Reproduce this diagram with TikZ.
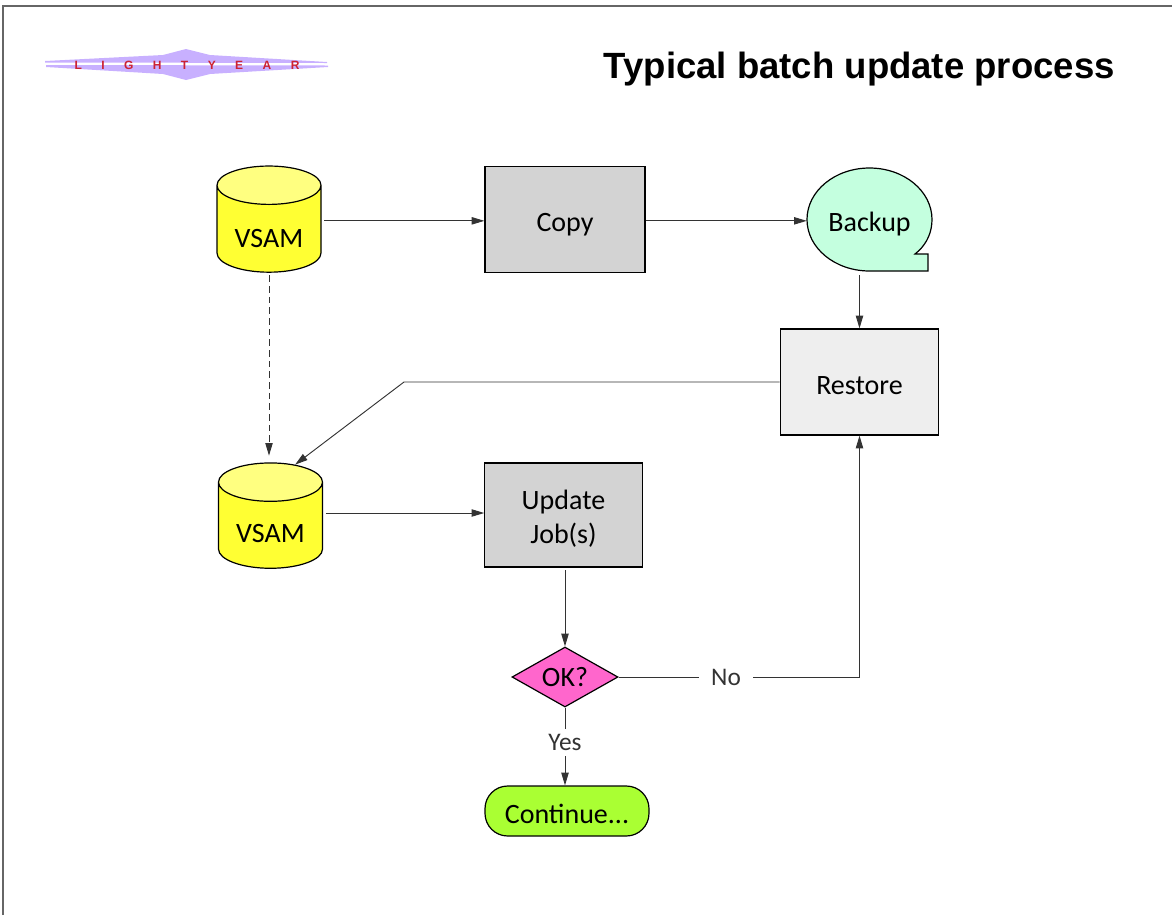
\documentclass[tikz,border=0pt]{standalone}
\usepackage{fontspec}
\setmainfont{Carlito}
\newfontfamily\titlefont{Liberation Sans}
\usetikzlibrary{positioning, arrows.meta, shapes.geometric}

\definecolor{vsamyellow}{HTML}{FFFF33}
\definecolor{vsamtop}{HTML}{FFFF80}
\definecolor{jobgrey}{HTML}{D3D3D3}
\definecolor{backupgreen}{HTML}{C4FFDF}
\definecolor{restoregrey}{HTML}{EEEEEE}
\definecolor{okpink}{HTML}{FF66CC}
\definecolor{contgreen}{HTML}{AAFF33}
\definecolor{logopurple}{HTML}{C8B0FF}
\definecolor{logored}{HTML}{CC2233}

\begin{document}
\begin{tikzpicture}[x=0.75pt, y=-0.75pt]
    % Styles
    \tikzstyle{shape line} = [draw=black, line width=0.9pt, font=\fontsize{21}{26}\selectfont, inner sep=0pt]
    \tikzstyle{one line} = [text height=22pt, text depth=4pt]
    \tikzstyle{vsam} = [shape line, cylinder, shape border rotate=90, aspect=0.56, cylinder uses custom fill, cylinder body fill=vsamyellow, cylinder end fill=vsamtop, minimum width=78pt, minimum height=79pt, text depth=4pt]
    \tikzstyle{job} = [shape line, rectangle, fill=jobgrey, align=center]
    \tikzstyle{edge} = [-{Triangle[length=9.5pt, width=5.5pt]}, line width=0.7pt, draw=black!80]
    \tikzstyle{edge label} = [fill=white, inner xsep=9pt, inner ysep=4pt, text=black!80, font=\fontsize{19}{22}\selectfont]

    \useasboundingbox (0, 0) rectangle (1172, 915);

    % Page border
    \draw[line width=1.1pt, draw=black!60] (3, 915) -- (3, 6) -- (1172, 6);

    % Logo
    \fill[logopurple] (45, 61) -- (163, 55) -- (186, 49) -- (210, 55) -- (327, 62) -- (327, 63) -- (45, 62.5) -- cycle;
    \fill[logopurple] (46, 65) -- (328, 65.5) -- (328, 67) -- (210, 74) -- (186, 80) -- (163, 74) -- (46, 67) -- cycle;
    \node[text=logored, font=\titlefont\bfseries\fontsize{9}{10}\selectfont\addfontfeature{LetterSpace=162}] (logo) at (187, 65.5) {LIGHTYEAR};

    % Title
    \node[anchor=east, inner sep=0pt, font=\titlefont\bfseries\fontsize{27.4}{32}\selectfont] (title) at (1115, 69) {Typical batch update process};

    % Backup outline
    \filldraw[line width=0.9pt, fill=backupgreen] (869.5, 271) -- (928, 271) -- (928, 254) -- (915, 254) -- (918.5, 251)
        .. controls (927, 243) and (932, 232) .. (932, 219.5)
        .. controls (932, 191) and (904, 168) .. (869.5, 168)
        .. controls (835, 168) and (807, 191) .. (807, 219.5)
        .. controls (807, 248) and (835, 271) .. (869.5, 271) -- cycle;

    % Nodes
    \node[vsam, text height=32pt] (vsam1) at (269, 229) {VSAM};
    \node[job, one line, minimum width=120pt, minimum height=79pt] (copy) at (565, 219.5) {Copy};
    \node[ellipse, one line, inner sep=0pt, minimum width=93.75pt, minimum height=77.25pt, font=\fontsize{21}{26}\selectfont] (backup) at (869.5, 219.5) {Backup};
    \node[job, one line, fill=restoregrey, minimum width=119pt, minimum height=79.5pt] (restore) at (859.5, 382) {Restore};
    \node[vsam, text height=29pt] (vsam2) at (270.5, 525.5) {VSAM};
    \node[job, minimum width=118pt, minimum height=78pt] (update) at (563.5, 515) {\rule{0pt}{20pt}Update\\Job(s)};
    \node[shape line, diamond, aspect=1.77, fill=okpink, minimum width=79.5pt, minimum height=45pt] (ok) at (565, 677) {OK?};
    \node[shape line, one line, rectangle, rounded corners=17pt, fill=contgreen, minimum width=123pt, minimum height=37.5pt] (cont) at (567, 811) {Continue...};
    \coordinate (bend) at (404, 382);

    % Edges
    \draw[edge, shorten <=2pt] ([yshift=-1pt]vsam1.east |- copy.west) -- ([yshift=-1pt]copy.west);
    \draw[edge] ([yshift=-1pt]copy.east) -- ([yshift=-1pt]backup.west);
    \draw[edge, shorten <=3pt] (restore.north |- backup.south) -- (restore.north);
    \draw[edge] (restore.west) -- (bend) -- (vsam2.68);
    \draw[edge, dash pattern=on 5pt off 3pt, shorten <=2pt, shorten >=5pt] (vsam1.south) -- (vsam2.north -| vsam1.south);
    \draw[edge, shorten <=2pt] ([yshift=1.5pt]vsam2.east |- update.west) -- ([yshift=1.5pt]update.west);
    \draw[edge, shorten <=2pt] (update.south -| ok.north) -- (ok.north);
    \draw[edge] (ok.south) -- node[edge label, pos=0.447] (yes) {Yes} (ok.south |- cont.north);
    \draw[edge] (ok.east) -- node[edge label, pos=0.446] (no) {No} (ok.east -| restore.south) -- (restore.south);
\end{tikzpicture}
\end{document}
